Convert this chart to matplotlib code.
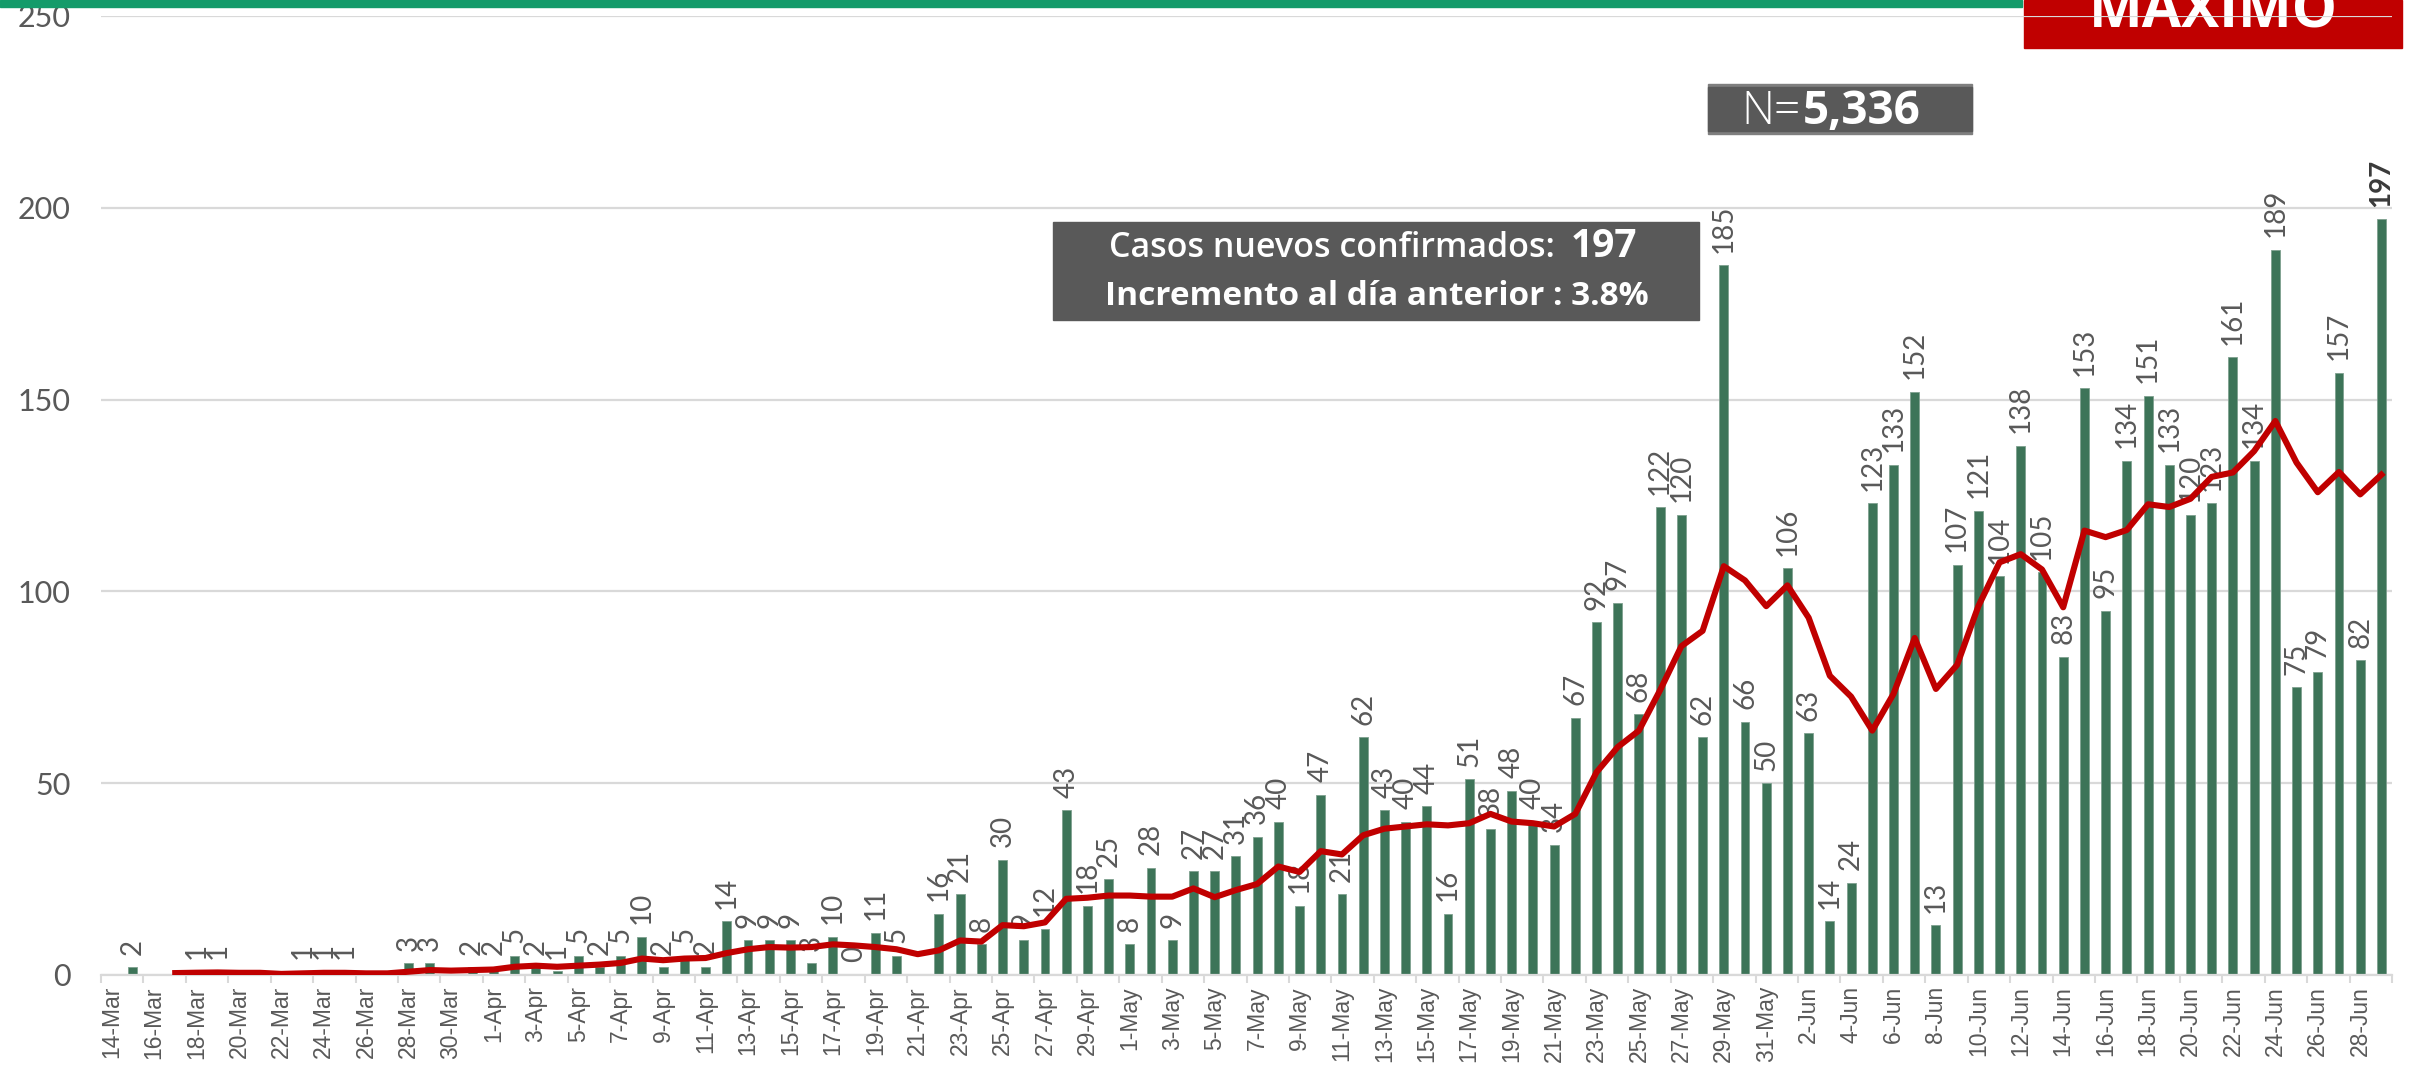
import pandas as pd
import matplotlib
matplotlib.use("Agg")
import matplotlib.pyplot as plt
from matplotlib.patches import Rectangle

# daily new confirmed cases, 14-Mar to 29-Jun (None = day without a report)
marzo = [None, 2, None, None, 1, 1, None, None, None, 1, 1, 1, None, None, 3, 3, None, 2]
abril = [2, 5, 2, 1, 5, 2, 5, 10, 2, 5, 2, 14, 9, 9, 9, 3, 10, 0, 11, 5,
         None, 16, 21, 8, 30, 9, 12, 43, 18, 25]
mayo = [8, 28, 9, 27, 27, 31, 36, 40, 18, 47, 21, 62, 43, 40, 44, 16, 51, 38,
        48, 40, 34, 67, 92, 97, 68, 122, 120, 62, 185, 66, 50]
junio = [106, 63, 14, 24, 123, 133, 152, 13, 107, 121, 104, 138, 105, 83, 153,
         95, 134, 151, 133, 120, 123, 161, 134, 189, 75, 79, 157, 82, 197]

casos = marzo + abril + mayo + junio
fechas = pd.date_range("2020-03-14", periods=len(casos), freq="D")
etiquetas = [f"{d.day}-{d.strftime('%b')}" for d in fechas]

total = "5,336"
nuevos = "197"
incremento = "3.8%"

# 7 day moving average
serie = pd.Series(casos, dtype=float).fillna(0)
promedio = serie.rolling(7, min_periods=1).mean()

W, H = 2415, 1069
def fx(x):
    return x / W
def fy(y):
    return 1 - y / H

fig = plt.figure(figsize=(W / 100, H / 100), dpi=100)
ax = fig.add_axes([fx(101), fy(975), fx(2392) - fx(101), fy(16) - fy(975)])
ax.patch.set_alpha(0)

verde = "#3d7458"
gris = "#595959"
n = len(casos)
x = list(range(n))
alturas = [0 if v is None else v for v in casos]
ax.bar(x, alturas, width=0.42, color=verde, edgecolor="#7fa08f", linewidth=0.6, zorder=2)
ax.plot(x[3:], promedio[3:], color="#c00000", lw=4.4, zorder=4, solid_joinstyle="round")

for i, v in enumerate(casos):
    if v is None:
        continue
    ultimo = i == n - 1
    ax.annotate(str(v), (i, v), xytext=(0, 9), textcoords="offset points",
                rotation=90, ha="center", va="bottom", fontsize=20,
                family="Lato", fontweight="bold" if ultimo else "normal",
                color="#3a3a3a" if ultimo else gris, zorder=3)

ax.set_xlim(-0.5, n - 0.5)
ax.set_ylim(0, 250)
ax.set_yticks(range(0, 251, 50))
ax.set_yticklabels([str(t) for t in range(0, 251, 50)], family="Lato",
                   fontsize=22, color=gris)
ax.set_xticks(x[::2])
ax.set_xticklabels(etiquetas[::2], rotation=90, family="Liberation Sans",
                   fontsize=16.5, color=gris)
ax.set_xticks([i - 0.5 for i in range(0, n + 1, 2)], minor=True)
ax.tick_params(axis="x", which="major", length=0, pad=8)
ax.tick_params(axis="x", which="minor", length=6, width=1.5, color="#d9d9d9")
ax.tick_params(axis="y", length=0, pad=22)
ax.yaxis.grid(True, color="#d9d9d9", lw=1.6)
ax.set_axisbelow(True)
for s in ["top", "right", "left"]:
    ax.spines[s].set_visible(False)
ax.spines["bottom"].set_color("#d9d9d9")
ax.spines["bottom"].set_linewidth(1.6)

# header decorations
fig.patches.append(Rectangle((0, fy(7)), fx(2022), 7 / H, transform=fig.transFigure,
                             color="#149b6a", zorder=5))
fig.patches.append(Rectangle((fx(2024), fy(48)), fx(2402) - fx(2024), 48 / H,
                             transform=fig.transFigure, color="#c00000", zorder=-2))
fig.text(fx(2213), fy(27), "MAXIMO", ha="center", va="baseline", fontsize=41,
         family="Open Sans", fontweight="bold", color="white", zorder=-1)

# N box
fig.patches.append(Rectangle((fx(1708), fy(134)), fx(1972) - fx(1708), 50 / H,
                             transform=fig.transFigure, color="#7f7f7f", zorder=-2))
fig.patches.append(Rectangle((fx(1708), fy(131)), fx(1972) - fx(1708), 44 / H,
                             transform=fig.transFigure, color=gris, zorder=-2))
fig.text(fx(1801), fy(124), "N=", ha="right", va="baseline", fontsize=33,
         family="Open Sans", fontweight="light", color="white")
fig.text(fx(1803), fy(124), total, ha="left", va="baseline", fontsize=33,
         family="Open Sans", fontweight="bold", color="white")

# new cases box
fig.patches.append(Rectangle((fx(1053), fy(320)), fx(1699) - fx(1053), 98 / H,
                             transform=fig.transFigure, color=gris, zorder=-2))
fig.text(fx(1555), fy(257), "Casos nuevos confirmados:", ha="right", va="baseline",
         fontsize=24.5, family="Open Sans", fontweight="semibold", color="white")
fig.text(fx(1571), fy(257), nuevos, ha="left", va="baseline", fontsize=28,
         family="Open Sans", fontweight="bold", color="white")
fig.text(fx(1377), fy(305), f"Incremento al día anterior : {incremento}", ha="center",
         va="baseline", fontsize=24, family="Open Sans", fontweight="bold", color="white")

fig.savefig("out.png", dpi=100)
